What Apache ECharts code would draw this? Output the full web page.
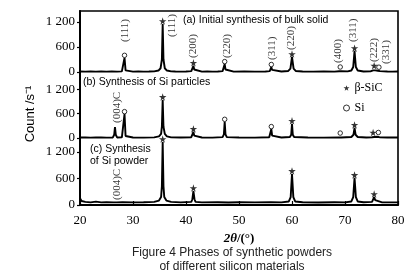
<!DOCTYPE html>
<html><head><meta charset="utf-8">
<script src="https://cdn.jsdelivr.net/npm/echarts@6/dist/echarts.min.js"></script>
<style>html,body{margin:0;padding:0;background:#fff}#c{width:420px;height:277px}</style>
</head><body><div id="c"></div>
<script>
// ---- data ----
const xTicks = [20, 30, 40, 50, 60, 70, 80];
const yTickValues = [0, 600, 1200];
const yTickLabels = ['0', '600', '1 200'];

const curveA = [[20,12],[21,8],[22,14],[23,10],[24,12],[25,9],[26,12],[27,10],[27.9,14],[28.2,40],[28.4,340],[28.6,40],[28.9,14],
[30,10],[31,12],[32,10],[33,12],[34,16],[34.8,35],[35.2,90],[35.45,300],[35.6,1150],[35.75,300],[36.0,90],[36.4,35],[37.2,16],[38,12],[39,10],[40,12],[41.0,20],[41.25,60],[41.4,150],[41.55,60],[41.8,18],
[43,10],[44,12],[45,10],[46,12],[46.9,20],[47.15,60],[47.3,190],[47.45,60],[47.7,18],[49,10],[51,12],[53,10],[55,12],[55.8,20],[56.0,50],[56.1,120],[56.25,50],[56.5,18],[58,12],[59.3,25],[59.7,80],[60.0,360],[60.3,80],[60.7,25],[62,12],[64,10],[66,12],[68,10],[68.9,18],[69.1,60],[69.3,18],[70.5,14],[71.2,35],[71.55,120],[71.8,500],[72.05,120],[72.4,35],[73.5,12],[74.8,14],[75.3,40],[75.5,80],[75.7,40],[76.2,30],[76.4,55],[76.6,20],[78,12],[79,10],[80,12]];
const curveB = [[20,12],[21,15],[22,10],[23,14],[24,12],[25,10],[26.2,14],[26.45,80],[26.6,270],[26.75,80],[27.0,14],[27.9,16],[28.2,50],[28.4,590],[28.6,50],[28.9,16],[30,12],[32,10],[34,16],[34.9,40],[35.3,100],[35.45,280],[35.6,940],[35.75,280],[36.0,100],[36.4,40],[37.2,16],[39,12],[41.0,20],[41.25,60],[41.4,150],[41.55,60],[41.8,18],[43,12],[45,10],[46.9,22],[47.15,90],[47.3,400],[47.45,90],[47.7,22],[50,12],[53,10],[55.7,20],[55.95,60],[56.1,220],[56.25,60],[56.5,20],[58,12],[59.6,24],[59.85,80],[60.0,350],[60.15,80],[60.4,24],[63,12],[66,10],[68.9,14],[69.1,60],[69.3,14],[71.2,25],[71.6,80],[71.8,250],[72.0,80],[72.4,25],[74,12],[75.1,20],[75.3,60],[75.5,24],[76.1,30],[76.3,75],[76.5,20],[78,12],[80,12]];
const curveC = [[20,150],[20.3,90],[21,70],[22,60],[23,75],[24,60],[25,65],[26.3,60],[26.6,85],[26.9,60],[28,62],[30,60],[32,62],[34,70],[34.9,100],[35.3,180],[35.45,420],[35.6,1420],[35.75,420],[35.9,180],[36.3,100],[37.2,70],[39,60],[41.0,70],[41.2,130],[41.4,315],[41.6,130],[41.8,70],[43,60],[46,62],[48,58],[50,62],[53,60],[56,62],[58,60],[59.4,80],[59.75,180],[60.0,700],[60.25,180],[60.6,80],[62,62],[65,58],[68,62],[70,60],[71.2,80],[71.55,180],[71.8,610],[72.05,180],[72.4,80],[73.5,62],[75.1,70],[75.3,110],[75.5,180],[75.7,110],[75.9,70],[77,60],[80,60]];

const starA = [[35.6,1150],[41.4,150],[60.0,360],[71.8,500],[75.5,80]];
const circleA = [[28.4,340],[47.3,190],[56.1,120],[69.1,60],[76.4,55]];
const starB = [[35.6,940],[41.4,150],[60.0,350],[71.8,250],[75.3,60]];
const circleB = [[28.4,590],[47.3,400],[56.1,220],[69.1,60],[76.3,75]];
const starC = [[35.6,1420],[41.4,315],[60.0,700],[71.8,610],[75.5,180]];
const circleC = [];

const hklA = [[28.6,720,'(111)'],[37.3,840,'(111)'],[41.3,336,'(200)'],[47.7,336,'(220)'],[56.2,288,'(311)'],[59.9,528,'(220)'],[68.7,216,'(400)'],[71.5,720,'(311)'],[75.5,240,'(222)'],[77.7,192,'(331)']];
const hklB = [[27.0,370,'(004)C']];
const hklC = [[27.0,112,'(004)C']];

const panelTitles = ['(a) Initial synthesis of bulk solid', '(b) Synthesis of Si particles', '(c) Synthesis\nof Si powder'];
const legendNames = ['β-SiC', 'Si'];
const caption = 'Figure 4 Phases of synthetic powders\nof different silicon materials';

// ---- chart ----
const STAR = 'path://M50,0 L61,35 L98,35 L68,57 L79,91 L50,70 L21,91 L32,57 L2,35 L39,35 Z';
const serif = 'Liberation Serif';
const sans = 'Liberation Sans';
const yMax = [1464, 1630, 1510];
const grids = [
  {left: 80, right: 22, top: 11, height: 61},
  {left: 80, right: 22, top: 72, height: 66},
  {left: 80, right: 22, top: 138, height: 67},
  {left: 80, right: 22, top: 11, height: 194, show: true, borderColor: '#000', borderWidth: 1.6, backgroundColor: 'transparent'}
];
const xAxes = [0,1,2,3].map(i => ({
  type: 'value', gridIndex: i, min: 20, max: 80, interval: 10,
  show: i === 2,
  axisLine: {show: true, onZero: false, lineStyle: {color: '#000', width: 2}},
  axisTick: {show: true, inside: true, length: 4, lineStyle: {color: '#000', width: 1.2}},
  axisLabel: {show: true, margin: 9, fontFamily: serif, fontSize: 13, color: '#000',
    customValues: xTicks},
  splitLine: {show: false},
  name: i === 2 ? '{i|2θ}{n|/(°)}' : '', nameLocation: 'middle', nameGap: 27,
  nameTextStyle: {rich: {i: {fontFamily: serif, fontStyle: 'italic', fontWeight: 'bold', fontSize: 13, color: '#000'},
                         n: {fontFamily: serif, fontWeight: 'bold', fontSize: 13, color: '#000'}}}
}));
const yAxes = [0,1,2,3].map(i => ({
  type: 'value', gridIndex: i, min: 0, max: i < 3 ? yMax[i] : 1,
  show: i < 3,
  axisLine: {show: true, onZero: false, lineStyle: {color: '#000', width: 2}},
  axisTick: {show: true, inside: false, length: 3, customValues: yTickValues, lineStyle: {color: '#000', width: 1.2}},
  axisLabel: {show: true, margin: 5, fontFamily: serif, fontSize: 13, color: '#000', customValues: yTickValues,
    formatter: v => yTickLabels[yTickValues.indexOf(v)]},
  splitLine: {show: false}
}));

const curves = [curveA, curveB, curveC];
const stars = [starA, starB, starC];
const circles = [circleA, circleB, circleC];
const hkls = [hklA, hklB, hklC];
const series = [];
for (let i = 0; i < 3; i++) {
  series.push({type: 'line', xAxisIndex: i, yAxisIndex: i, data: curves[i], showSymbol: false, symbol: 'none',
    lineStyle: {color: '#000', width: 1.9}, z: 2, silent: true, animation: false});
  series.push({type: 'scatter', name: legendNames[0], xAxisIndex: i, yAxisIndex: i, data: stars[i], symbol: STAR,
    symbolSize: 7.5, symbolOffset: [0, -3], itemStyle: {color: '#000'}, z: 4, animation: false});
  series.push({type: 'scatter', name: legendNames[1], xAxisIndex: i, yAxisIndex: i, data: circles[i], symbol: 'circle',
    symbolSize: 4.5, symbolOffset: [0, -2.5], itemStyle: {color: '#fff', borderColor: '#000', borderWidth: 1}, z: 4, animation: false});
  series.push({type: 'scatter', xAxisIndex: i, yAxisIndex: i, data: hkls[i], symbolSize: 0, z: 5, animation: false,
    label: {show: true, position: 'top', distance: 0, rotate: 90, align: 'left', verticalAlign: 'middle',
      fontFamily: serif, fontSize: 11, color: '#000', formatter: p => p.data[2]}});
}

const option = {
  backgroundColor: '#fff',
  animation: false,
  grid: grids,
  xAxis: xAxes,
  yAxis: yAxes,
  series: series,
  legend: {data: [{name: legendNames[0], itemStyle: {color: '#000', borderWidth: 0}},
                  {name: legendNames[1], icon: 'circle', itemStyle: {color: '#fff', borderColor: '#000', borderWidth: 1}}],
    orient: 'vertical', left: 343, top: 82, itemWidth: 6, itemHeight: 6, itemGap: 8,
    selectedMode: false, textStyle: {fontFamily: serif, fontSize: 12, color: '#000'}, padding: 0},
  title: [
    {text: panelTitles[0], left: 183, top: 15, padding: 0, textStyle: {fontFamily: sans, fontSize: 10.5, fontWeight: 'normal', color: '#000'}},
    {text: panelTitles[1], left: 83, top: 77, padding: 0, textStyle: {fontFamily: sans, fontSize: 10.5, fontWeight: 'normal', color: '#000'}},
    {text: panelTitles[2], left: 90, top: 143, padding: 0, textAlign: 'left', textStyle: {fontFamily: sans, fontSize: 10.5, fontWeight: 'normal', color: '#000', lineHeight: 12, align: 'center'}},
    {text: caption, left: 232, top: 246, padding: 0, textAlign: 'center', textStyle: {fontFamily: sans, fontSize: 12, fontWeight: 'normal', color: '#222', lineHeight: 14, align: 'center'}}
  ],
  graphic: [{type: 'text', x: 30, y: 114, rotation: Math.PI / 2,
    style: {text: 'Count /s⁻¹', font: '13px "Liberation Sans"', fill: '#000', align: 'center', verticalAlign: 'middle'}}]
};
const chart = echarts.init(document.getElementById('c'), null, {renderer: 'canvas'});
chart.setOption(option);
</script></body></html>
